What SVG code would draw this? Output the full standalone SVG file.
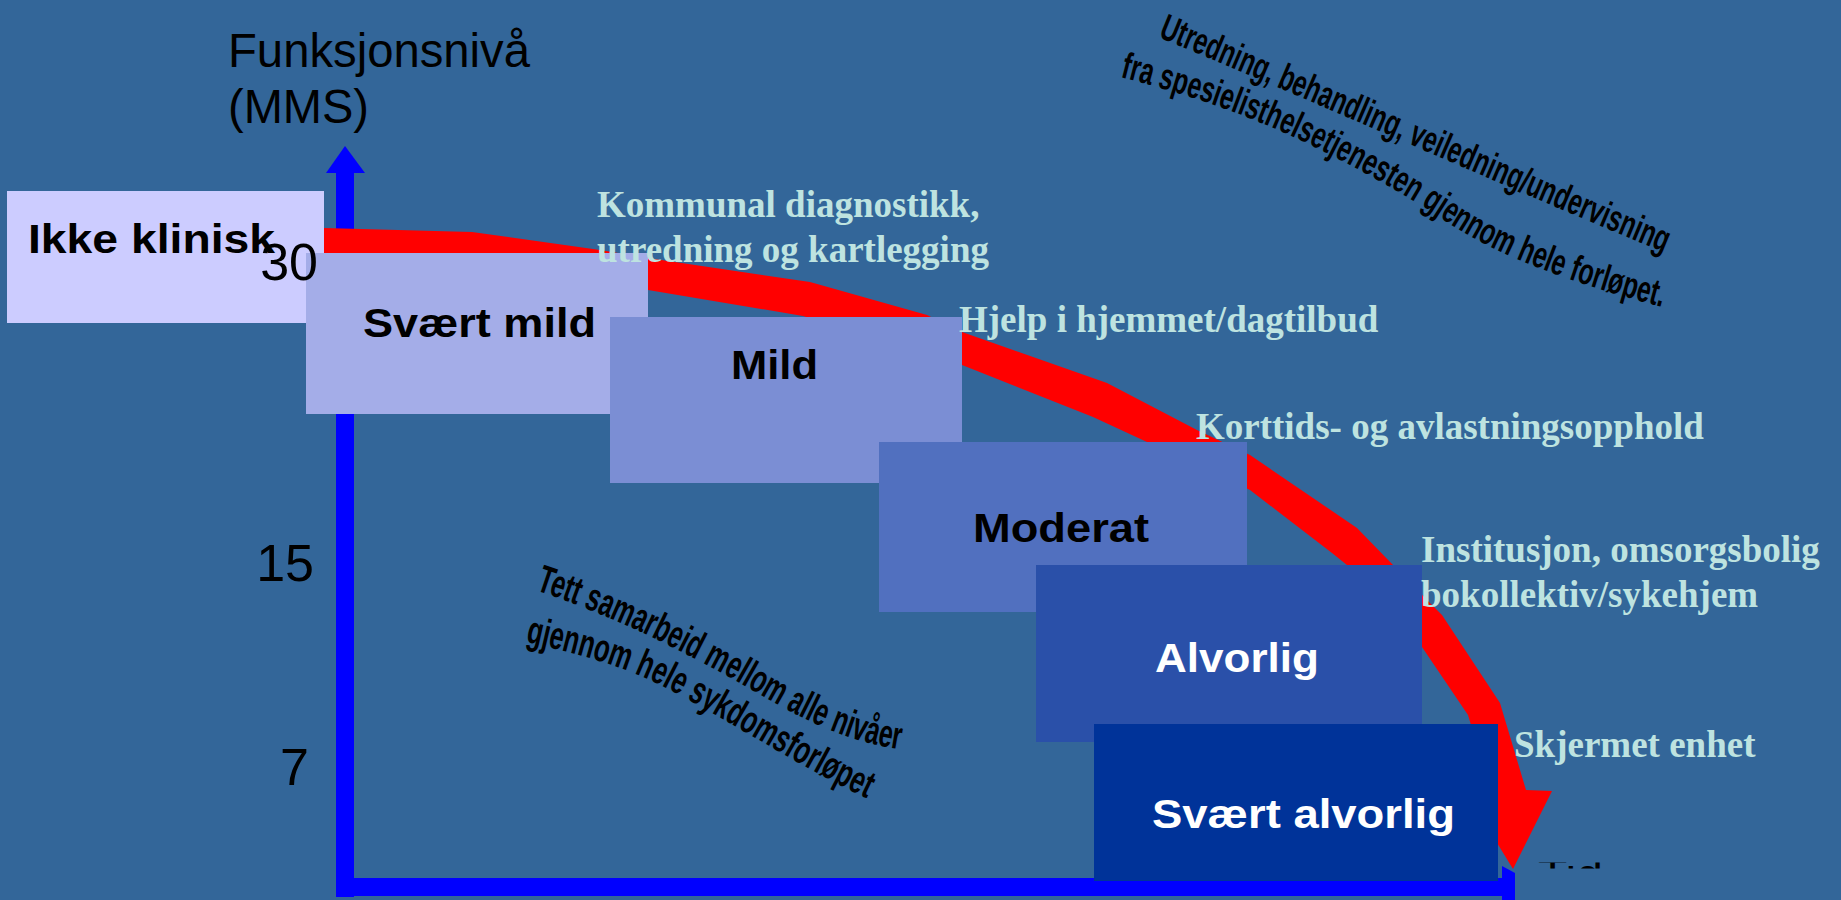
<svg xmlns="http://www.w3.org/2000/svg" width="1841" height="900" viewBox="0 0 1841 900">
<defs>
<style>
.lbl{font-family:"Liberation Sans",Arial,sans-serif;font-weight:bold;font-size:41px;fill:#000}
.lblw{fill:#fff}
.svc{font-family:"Liberation Serif","Times New Roman",serif;font-weight:bold;font-size:37px;fill:#BEE3E0}
.num{font-family:"Liberation Sans",Arial,sans-serif;font-size:52px;fill:#000;text-anchor:end}
.ax{font-family:"Liberation Sans",Arial,sans-serif;font-size:48px;fill:#000}
.wa{font-family:"Liberation Sans",Arial,sans-serif;font-weight:bold;fill:#000}
</style>
<path id="p1" d="M1158,37 C1300,95 1500,185 1668,254"/>
<path id="p2" d="M1120,77 Q1220,102 1300,140 T1450,224 T1666,308"/>
<path id="p3" d="M535,590 C610,615 660,640 720,672 C780,705 830,740 904,750"/>
<path id="p4" d="M525,642 C570,652 610,662 650,680 C720,714 790,762 868,799"/>
<clipPath id="clipH"><rect x="0" y="0" width="1515" height="900"/></clipPath>
<clipPath id="clipT"><rect x="1530" y="862.5" width="90" height="6"/></clipPath>
</defs>
<rect x="0" y="0" width="1841" height="900" fill="#336699"/>

<g id="axes" fill="#0000FF">
<rect x="336" y="172" width="18" height="725"/>
<polygon points="345,146 365,173 326,173"/>
<g clip-path="url(#clipH)">
<rect x="336" y="878" width="1170" height="18"/>
<polygon points="1502,866 1541,887 1502,908"/>
</g>
</g>

<g id="connectors">
<polygon fill="#FF0000" points="318,227 324,228 472,232 600,250 648,258 810,282 927,315 962,332 1107,383 1197,430 1250,455 1357,528 1393,565 1427,600 1442,615 1500,703 1526,790 1552,791 1513,869 1464,789 1490,789 1468,715 1422,647 1347,565 1332,553 1250,490 1147,442 1093,417 962,365 803,316 648,290 470,268 324,265 318,265"/>
</g>

<g id="node-ikke-klinisk">
<rect x="7" y="191" width="317" height="132" fill="#CCCCFF"/>
<text class="lbl" x="28" y="253" textLength="247" lengthAdjust="spacingAndGlyphs">Ikke klinisk</text>
</g>
<g id="node-svaert-mild">
<rect x="306" y="253" width="342" height="161" fill="#A4ADE8"/>
<text class="lbl" x="363" y="337" textLength="233" lengthAdjust="spacingAndGlyphs">Svært mild</text>
</g>
<g id="node-mild">
<rect x="610" y="317" width="352" height="166" fill="#7B8ED4"/>
<text class="lbl" x="731" y="379" textLength="87" lengthAdjust="spacingAndGlyphs">Mild</text>
</g>
<g id="node-moderat">
<rect x="879" y="442" width="368" height="170" fill="#5170BF"/>
<text class="lbl" x="973" y="542" textLength="176" lengthAdjust="spacingAndGlyphs">Moderat</text>
</g>
<g id="node-alvorlig">
<rect x="1036" y="565" width="386" height="177" fill="#2A50A9"/>
<text class="lbl lblw" x="1155" y="672" textLength="164" lengthAdjust="spacingAndGlyphs">Alvorlig</text>
</g>
<g id="node-svaert-alvorlig">
<rect x="1094" y="724" width="404" height="157" fill="#003399"/>
<text class="lbl lblw" x="1152" y="828" textLength="303" lengthAdjust="spacingAndGlyphs">Svært alvorlig</text>
</g>

<g id="axis-labels">
<text class="ax" x="228" y="67" textLength="302" lengthAdjust="spacingAndGlyphs">Funksjonsnivå</text>
<text class="ax" x="228" y="123" textLength="141" lengthAdjust="spacingAndGlyphs">(MMS)</text>
<text class="num" x="318" y="280">30</text>
<text class="num" x="314" y="581">15</text>
<text class="num" x="309" y="785">7</text>
<text class="ax" x="1538" y="892" font-size="40" clip-path="url(#clipT)">Tid</text>
</g>

<g id="service-labels">
<text class="svc" x="597" y="217">Kommunal diagnostikk,</text>
<text class="svc" x="597" y="262">utredning og kartlegging</text>
<text class="svc" x="959" y="332">Hjelp i hjemmet/dagtilbud</text>
<text class="svc" x="1196" y="439">Korttids- og avlastningsopphold</text>
<text class="svc" x="1421" y="562">Institusjon, omsorgsbolig</text>
<text class="svc" x="1421" y="607">bokollektiv/sykehjem</text>
<text class="svc" x="1514" y="757">Skjermet enhet</text>
</g>

<g id="note-specialist">
<text class="wa" font-size="37"><textPath href="#p1" textLength="550" lengthAdjust="spacingAndGlyphs">Utredning, behandling, veiledning/undervisning</textPath></text>
<text class="wa" font-size="37"><textPath href="#p2" textLength="592" lengthAdjust="spacingAndGlyphs">fra spesielisthelsetjenesten gjennom hele forløpet.</textPath></text>
</g>
<g id="note-cooperation">
<text class="wa" font-size="39"><textPath href="#p3" textLength="400" lengthAdjust="spacingAndGlyphs">Tett samarbeid mellom alle nivåer</textPath></text>
<text class="wa" font-size="39"><textPath href="#p4" textLength="378" lengthAdjust="spacingAndGlyphs">gjennom hele sykdomsforløpet</textPath></text>
</g>
</svg>
